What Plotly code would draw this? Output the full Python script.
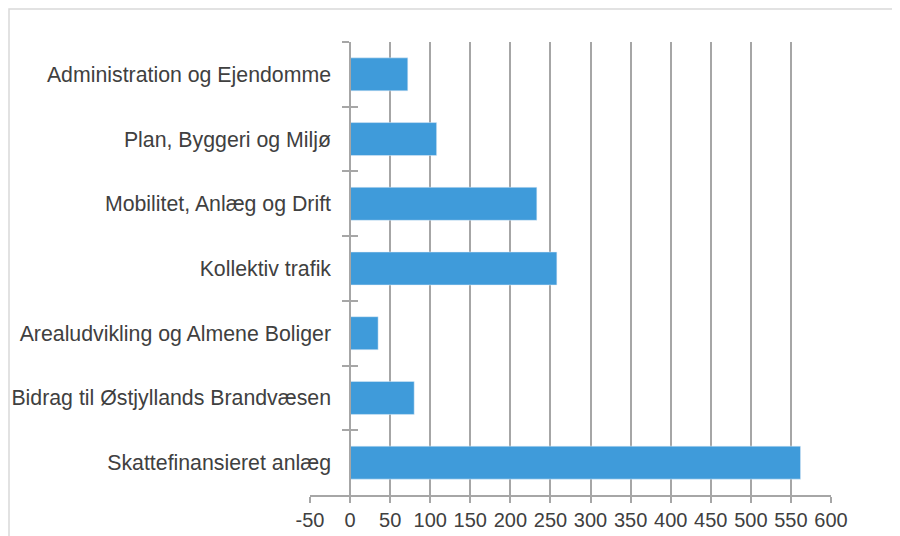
import plotly.graph_objects as go

# Data
categories = [
    "Administration og Ejendomme",
    "Plan, Byggeri og Miljø",
    "Mobilitet, Anlæg og Drift",
    "Kollektiv trafik",
    "Arealudvikling og Almene Boliger",
    "Bidrag til Østjyllands Brandvæsen",
    "Skattefinansieret anlæg",
]
values = [72, 108, 233, 258, 35, 80, 562]
x_ticks = list(range(-50, 601, 50))
x_tick_labels = [str(v) for v in x_ticks]  # plain hyphen for "-50"

BAR_COLOR = "#3f9bda"
GRID_COLOR = "#a6a6a6"
TEXT_COLOR = "#404040"
FONT = "Liberation Sans, Arial, sans-serif"
LINE_W = 1.6

# page body adds an 8px offset, so margins are shifted to compensate
OFFSET = 8
W, H = 900, 536
plot_w, plot_h = 521, 453
L, T = 310 - OFFSET, 42 - OFFSET
R = W - L - plot_w
B = H - T - plot_h
x_min, x_max = -50, 600
# y axis sits at x = 0, not at the left edge of the plot area
y_axis_pos = (0 - x_min) / (x_max - x_min)

fig = go.Figure()
fig.add_trace(go.Bar(
    x=values, y=categories, orientation="h",
    marker=dict(color=BAR_COLOR, line=dict(width=0)),
    hoverinfo="x+y",
))
# transparent copy so the overlay axis gets the same categories (inside ticks)
fig.add_trace(go.Bar(
    x=values, y=categories, orientation="h", yaxis="y2",
    marker=dict(color="rgba(0,0,0,0)"), hoverinfo="skip", showlegend=False,
))

fig.update_layout(
    width=W, height=H,
    margin=dict(l=L, r=R, t=T, b=B, autoexpand=False),
    paper_bgcolor="white", plot_bgcolor="white",
    font=dict(family=FONT, color=TEXT_COLOR, size=20),
    bargap=0.49,
    showlegend=False,
    xaxis=dict(
        range=[x_min, x_max], tickvals=x_ticks, ticktext=x_tick_labels,
        showgrid=True, gridcolor=GRID_COLOR, gridwidth=LINE_W,
        showline=True, linecolor=GRID_COLOR, linewidth=LINE_W,
        ticks="outside", ticklen=6, tickcolor=GRID_COLOR, tickwidth=LINE_W,
        zeroline=False, tickfont=dict(size=20, color=TEXT_COLOR),
        automargin=False,
    ),
    yaxis=dict(
        type="category", autorange="reversed",
        anchor="free", position=y_axis_pos,
        showline=True, linecolor=GRID_COLOR, linewidth=LINE_W,
        ticks="outside", ticklen=7, tickcolor=GRID_COLOR, tickwidth=LINE_W,
        tickson="boundaries", showgrid=False,
        tickfont=dict(size=21.3, color=TEXT_COLOR),
        ticklabelstandoff=14, automargin=False,
    ),
    yaxis2=dict(
        type="category", overlaying="y", matches="y",
        anchor="free", position=y_axis_pos,
        showline=False, ticks="inside", ticklen=7,
        tickcolor=GRID_COLOR, tickwidth=LINE_W,
        tickson="boundaries", showgrid=False, showticklabels=False,
        automargin=False,
    ),
    shapes=[dict(
        type="rect", xref="paper", yref="paper",
        x0=(9 - OFFSET - L) / plot_w, x1=(W + 10 - L) / plot_w,
        y0=(H - B - (H + 10)) / plot_h, y1=(H - B - (9 - OFFSET)) / plot_h,
        line=dict(color="#d9d9d9", width=1.5), fillcolor="rgba(0,0,0,0)",
        layer="below",
    )],
)

fig.write_html("out.html")
